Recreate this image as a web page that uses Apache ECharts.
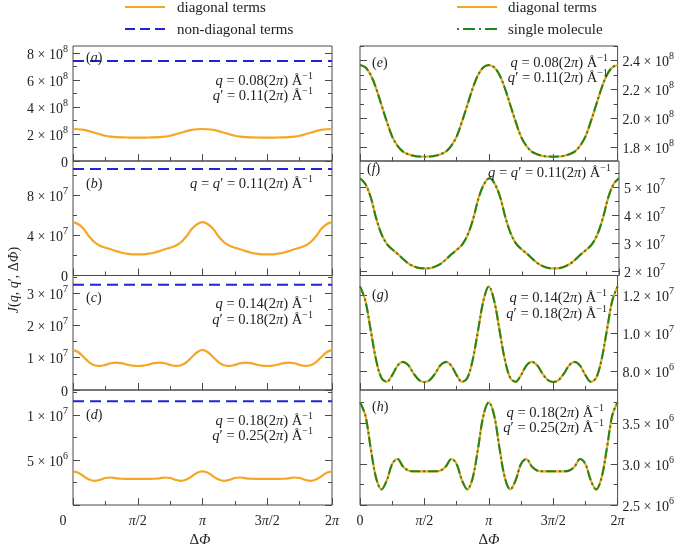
<!DOCTYPE html>
<html><head><meta charset="utf-8">
<script src="https://cdn.jsdelivr.net/npm/echarts@6/dist/echarts.min.js"></script>
<style>html,body{margin:0;padding:0;background:#fff}#c{width:677px;height:549px}</style>
</head><body><div id="c"></div>
<script>
// ---- data (x in units of pi) ----
const phiOverPi = [0,0.0417,0.0833,0.125,0.1667,0.2083,0.25,0.2917,0.3333,0.375,0.4167,0.4583,0.5,0.5417,0.5833,0.625,0.6667,0.7083,0.75,0.7917,0.8333,0.875,0.9167,0.9583,1,1.0417,1.0833,1.125,1.1667,1.2083,1.25,1.2917,1.3333,1.375,1.4167,1.4583,1.5,1.5417,1.5833,1.625,1.6667,1.7083,1.75,1.7917,1.8333,1.875,1.9167,1.9583,2];
// q=0.08, q'=0.11 (units 1e8)
const diag1_e8 = [2.370,2.354,2.301,2.209,2.093,1.978,1.874,1.810,1.770,1.752,1.741,1.736,1.735,1.736,1.741,1.752,1.770,1.810,1.874,1.978,2.093,2.209,2.301,2.354,2.370,2.354,2.301,2.209,2.093,1.978,1.874,1.810,1.770,1.752,1.741,1.736,1.735,1.736,1.741,1.752,1.770,1.810,1.874,1.978,2.093,2.209,2.301,2.354,2.370];
// q=q'=0.11 (units 1e7)
const diag2_e7 = [5.31,5.10,4.62,3.88,3.31,2.96,2.77,2.61,2.43,2.27,2.17,2.11,2.10,2.11,2.17,2.27,2.43,2.61,2.77,2.96,3.31,3.88,4.62,5.10,5.31,5.10,4.62,3.88,3.31,2.96,2.77,2.61,2.43,2.27,2.17,2.11,2.10,2.11,2.17,2.27,2.43,2.61,2.77,2.96,3.31,3.88,4.62,5.10,5.31];
// q=0.14, q'=0.18 (units 1e7)
const diag3_e7 = [1.245,1.170,1.015,0.860,0.765,0.745,0.780,0.830,0.849,0.832,0.788,0.754,0.744,0.754,0.788,0.832,0.849,0.830,0.780,0.745,0.765,0.860,1.015,1.170,1.245,1.170,1.015,0.860,0.765,0.745,0.780,0.830,0.849,0.832,0.788,0.754,0.744,0.754,0.788,0.832,0.849,0.830,0.780,0.745,0.765,0.860,1.015,1.170,1.245];
// q=0.18, q'=0.25 (units 1e6)
const diag4_e6 = [3.75,3.59,3.19,2.83,2.69,2.80,3.00,3.06,2.97,2.92,2.91,2.91,2.91,2.91,2.91,2.92,2.97,3.06,3.00,2.80,2.69,2.83,3.19,3.59,3.75,3.59,3.19,2.83,2.69,2.80,3.00,3.06,2.97,2.92,2.91,2.91,2.91,2.91,2.91,2.92,2.97,3.06,3.00,2.80,2.69,2.83,3.19,3.59,3.75];
// single molecule curves coincide with the diagonal terms
const single1_e8 = diag1_e8.slice();
const single2_e7 = diag2_e7.slice();
const single3_e7 = diag3_e7.slice();
const single4_e6 = diag4_e6.slice();
// non-diagonal terms (constant), in units of each left panel
const nonDiag = [7.40, 10.6, 3.26, 11.55];

const xTickVals = [0, 0.5, 1, 1.5, 2];
const xTickLabels = ['0', '*π*/2', '*π*', '3*π*/2', '2*π*'];

const ticksA = [0,2,4,6,8], minorA = [1,3,5,7], labelsA = ['0','2 × 10^8','4 × 10^8','6 × 10^8','8 × 10^8'];
const ticksB = [0,4,8], minorB = [2,6,10], labelsB = ['0','4 × 10^7','8 × 10^7'];
const ticksC = [0,1,2,3], minorC = [0.5,1.5,2.5,3.5], labelsC = ['0','1 × 10^7','2 × 10^7','3 × 10^7'];
const ticksD = [0,5,10], minorD = [2.5,7.5,12.5], labelsD = ['','5 × 10^6','1 × 10^7'];
const ticksE = [1.8,2.0,2.2,2.4], minorE = [1.9,2.1,2.3,2.5], labelsE = ['1.8 × 10^8','2.0 × 10^8','2.2 × 10^8','2.4 × 10^8'];
const ticksF = [2,3,4,5], minorF = [2.5,3.5,4.5,5.5], labelsF = ['2 × 10^7','3 × 10^7','4 × 10^7','5 × 10^7'];
const ticksG = [0.8,1.0,1.2], minorG = [0.9,1.1], labelsG = ['8.0 × 10^6','1.0 × 10^7','1.2 × 10^7'];
const ticksH = [2.5,3.0,3.5], minorH = [2.75,3.25,3.75], labelsH = ['2.5 × 10^6','3.0 × 10^6','3.5 × 10^6'];

const panelNames = ['a','b','c','d','e','f','g','h'];
const annotations = [
  ['*q* = 0.08(2*π*) Å^{−1}', '*q*′ = 0.11(2*π*) Å^{−1}'],
  ['*q* = *q*′ = 0.11(2*π*) Å^{−1}'],
  ['*q* = 0.14(2*π*) Å^{−1}', '*q*′ = 0.18(2*π*) Å^{−1}'],
  ['*q* = 0.18(2*π*) Å^{−1}', '*q*′ = 0.25(2*π*) Å^{−1}'],
  ['*q* = 0.08(2*π*) Å^{−1}', '*q*′ = 0.11(2*π*) Å^{−1}'],
  ['*q* = *q*′ = 0.11(2*π*) Å^{−1}'],
  ['*q* = 0.14(2*π*) Å^{−1}', '*q*′ = 0.18(2*π*) Å^{−1}'],
  ['*q* = 0.18(2*π*) Å^{−1}', '*q*′ = 0.25(2*π*) Å^{−1}']
];
const legendLeft = ['diagonal terms', 'non-diagonal terms'];
const legendRight = ['diagonal terms', 'single molecule'];

// ---- layout & style ----
const FONT = 'Liberation Serif';
const TXT = '#222';
const AX = '#4a4a4a';
const ORANGE = '#F5A623';
const BLUE = '#2323D2';
const GREEN = '#1F861F';
const colLeft = [73, 360];
const gridW = 259;
const rowTop = [46, 161, 275.5, 390];
const rowH = [115, 114.5, 114.5, 115];

const panels = [
  {col:0,row:0,min:0,max:8.52,major:ticksA,minor:minorA,labels:labelsA,diag:diag1_e8,nd:nonDiag[0]},
  {col:0,row:1,min:0,max:11.4,major:ticksB,minor:minorB,labels:labelsB,diag:diag2_e7,nd:nonDiag[1]},
  {col:0,row:2,min:0,max:3.55,major:ticksC,minor:minorC,labels:labelsC,diag:diag3_e7,nd:nonDiag[2]},
  {col:0,row:3,min:0,max:12.8,major:ticksD,minor:minorD,labels:labelsD,diag:diag4_e6,nd:nonDiag[3]},
  {col:1,row:0,min:1.705,max:2.502,major:ticksE,minor:minorE,labels:labelsE,diag:diag1_e8,single:single1_e8},
  {col:1,row:1,min:1.846,max:5.92,major:ticksF,minor:minorF,labels:labelsF,diag:diag2_e7,single:single2_e7},
  {col:1,row:2,min:0.702,max:1.302,major:ticksG,minor:minorG,labels:labelsG,diag:diag3_e7,single:single3_e7},
  {col:1,row:3,min:2.5,max:3.9,major:ticksH,minor:minorH,labels:labelsH,diag:diag4_e6,single:single4_e6}
];

function mk(s){
  let out=''; const re=/\*([^*]+)\*|\^\{([^}]+)\}|([^*^]+)/g; let m;
  while((m=re.exec(s))){ if(m[1]) out+='{i|'+m[1]+'}'; else if(m[2]) out+='{s|'+m[2]+'}'; else out+='{b|'+m[3]+'}'; }
  return out;
}
function sci(lbl){
  if(!lbl) return '';
  const p = lbl.split('^');
  return p.length>1 ? '{b|'+p[0]+'}{s|'+p[1]+'}' : '{b|'+lbl+'}';
}
const axRich = {
  b:{fontFamily:FONT,fontSize:14,color:TXT,lineHeight:18,verticalAlign:'bottom'},
  i:{fontFamily:FONT,fontSize:14,fontStyle:'italic',color:TXT,lineHeight:18,verticalAlign:'bottom'},
  s:{fontFamily:FONT,fontSize:10,color:TXT,lineHeight:10,verticalAlign:'top'},
  z:{fontFamily:FONT,fontSize:14,color:TXT,lineHeight:18,verticalAlign:'bottom',padding:[0,20,0,0]}
};
function makeRich(fs){
  return {
    b:{fontFamily:FONT,fontSize:fs,fill:TXT,lineHeight:18,verticalAlign:'bottom'},
    i:{fontFamily:FONT,fontSize:fs,fontStyle:'italic',fill:TXT,lineHeight:18,verticalAlign:'bottom'},
    s:{fontFamily:FONT,fontSize:10,fill:TXT,lineHeight:10,verticalAlign:'top'},
    B:{fontFamily:FONT,fontSize:15,fill:TXT,lineHeight:18,verticalAlign:'bottom'},
    I:{fontFamily:FONT,fontSize:15,fontStyle:'italic',fill:TXT,lineHeight:18,verticalAlign:'bottom'}
  };
}
const rich14 = makeRich(14), rich145 = makeRich(14.6), rich15 = makeRich(15);

const grid=[], xAxis=[], yAxis=[], series=[];
panels.forEach((p,i)=>{
  grid.push({left:colLeft[p.col], top:rowTop[p.row], width:gridW, height:rowH[p.row],
    show:true, borderColor:AX, borderWidth:1, containLabel:false});
  const showX = p.row===3;
  xAxis.push({gridIndex:i, type:'value', min:0, max:2, interval:0.5,
    axisLine:{show:false}, splitLine:{show:false},
    axisTick:{show:true, inside:true, length:7, lineStyle:{color:AX}},
    minorTick:{show:true, splitNumber:2, length:4, lineStyle:{color:AX}},
    axisLabel:{show:showX, margin:5, rich:axRich, formatter:(v)=>{
      const k = xTickVals.findIndex(t=>Math.abs(t-v)<1e-6);
      if(k<0) return '';
      if(k===0 && p.col===0) return '{z|0}';
      return mk(xTickLabels[k]);
    }}});
  const fmt = (v)=>{ const k=p.major.findIndex(t=>Math.abs(t-v)<1e-6); return k<0?'':sci(p.labels[k]); };
  const base = {gridIndex:i, type:'value', min:p.min, max:p.max, axisLine:{show:false}, splitLine:{show:false}};
  yAxis.push(Object.assign({}, base, {position:'left',
    axisTick:{show:true, inside:true, length:7, customValues:p.major, lineStyle:{color:AX}},
    axisLabel:{show:p.col===0, customValues:p.major, margin:5, rich:axRich, formatter:fmt}}));
  yAxis.push(Object.assign({}, base, {position:'left',
    axisTick:{show:true, inside:true, length:4, customValues:p.minor, lineStyle:{color:AX}},
    axisLabel:{show:false}}));
  yAxis.push(Object.assign({}, base, {position:'right',
    axisTick:{show:true, inside:true, length:7, customValues:p.major, lineStyle:{color:AX}},
    axisLabel:{show:p.col===1, customValues:p.major, margin:5, rich:axRich, formatter:fmt}}));
  yAxis.push(Object.assign({}, base, {position:'right',
    axisTick:{show:true, inside:true, length:4, customValues:p.minor, lineStyle:{color:AX}},
    axisLabel:{show:false}}));

  series.push({type:'line', xAxisIndex:i, yAxisIndex:4*i, smooth:0.35, symbol:'none', silent:true, z:2,
    data: phiOverPi.map((x,j)=>[x, p.diag[j]]), lineStyle:{color:ORANGE, width:2.2}});
  if(p.col===0){
    series.push({type:'line', xAxisIndex:i, yAxisIndex:4*i, symbol:'none', silent:true, z:3,
      data:[[0,p.nd],[2,p.nd]], lineStyle:{color:BLUE, width:2, type:[11,6]}});
  } else {
    series.push({type:'line', xAxisIndex:i, yAxisIndex:4*i, smooth:0.35, symbol:'none', silent:true, z:3,
      data: phiOverPi.map((x,j)=>[x, p.single[j]]), lineStyle:{color:GREEN, width:2, type:[10,3,2,3]}});
  }
});

function txt(x,y,text,align,rich,extra){
  return Object.assign({type:'text', x:x, y:y, z:100, silent:true,
    style:{text:text, align:align, verticalAlign:'middle', fontFamily:FONT, fontSize:14, fill:TXT, rich:rich}}, extra||{});
}
const graphic = [];
graphic.push({type:'line', z:100, silent:true, shape:{x1:125,y1:7,x2:165,y2:7}, style:{stroke:ORANGE, lineWidth:2}});
graphic.push(txt(177,7,mk(legendLeft[0]),'left',rich15));
graphic.push({type:'line', z:100, silent:true, shape:{x1:125,y1:29,x2:166,y2:29}, style:{stroke:BLUE, lineWidth:2, lineDash:[10,5]}});
graphic.push(txt(177,29,mk(legendLeft[1]),'left',rich15));
graphic.push({type:'line', z:100, silent:true, shape:{x1:457,y1:7,x2:497,y2:7}, style:{stroke:ORANGE, lineWidth:2}});
graphic.push(txt(508,7,mk(legendRight[0]),'left',rich15));
graphic.push({type:'line', z:100, silent:true, shape:{x1:457,y1:29,x2:497,y2:29}, style:{stroke:GREEN, lineWidth:2, lineDash:[2,4,12,4]}});
graphic.push(txt(508,29,mk(legendRight[1]),'left',rich15));

const labelPos = [[86,56],[86,182],[86,296],[86,413],[372,61],[367,167],[372,293],[372,405]];
const annPos = [[313,[80,95]],[313,[183]],[313,[303,319]],[313,[420,435]],
                [608,[62,77]],[611,[172]],[607,[297,313]],[604,[412,427]]];
panels.forEach((p,i)=>{
  graphic.push(txt(labelPos[i][0], labelPos[i][1], mk('(*'+panelNames[i]+'*)'), 'left', rich14));
  annotations[i].forEach((a,j)=>{
    graphic.push(txt(annPos[i][0], annPos[i][1][j], mk(a), 'right', rich145));
  });
});
graphic.push(txt(200,539,'{B|Δ}{I|Φ}','center',rich15));
graphic.push(txt(489,539,'{B|Δ}{I|Φ}','center',rich15));
graphic.push(txt(12,280,mk('*J*(*q*, *q*′, Δ*Φ*)'),'center',rich14,{rotation:Math.PI/2}));

const chart = echarts.init(document.getElementById('c'), null, {renderer:'canvas'});
chart.setOption({animation:false, backgroundColor:'#fff', grid, xAxis, yAxis, series, graphic,
  textStyle:{fontFamily:FONT}});
</script>
</body></html>
